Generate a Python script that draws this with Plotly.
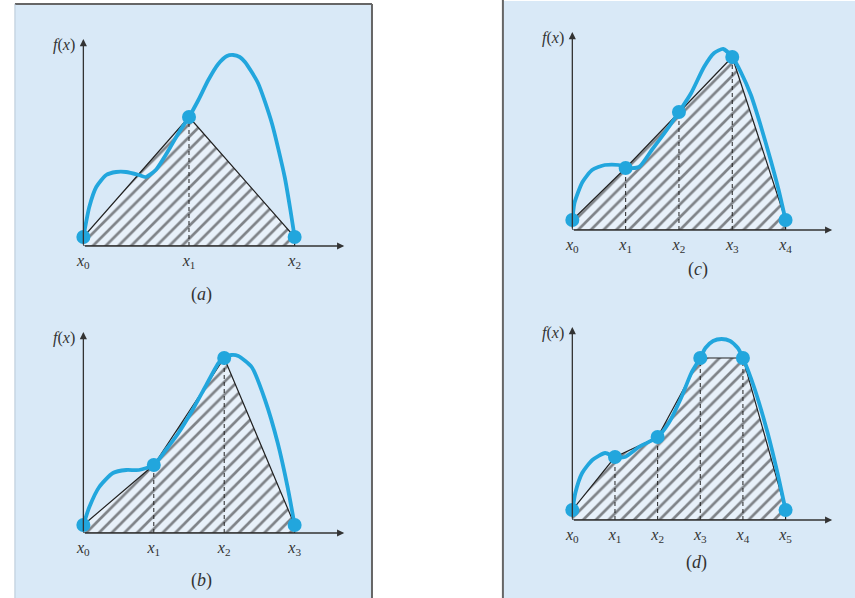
import plotly.graph_objects as go

# ---------------- data ----------------
# f-units: x measured in node spacings (x_k = k), f on a 0..10 scale
curve_a_x = [0, 0.056, 0.122, 0.216, 0.31, 0.404, 0.526, 0.592, 0.685, 0.808, 0.901, 1.0,
             1.089, 1.183, 1.277, 1.36, 1.418, 1.48, 1.53, 1.653, 1.784, 1.906, 1.96, 2.0]
curve_a_y = [0.45, 1.95, 2.95, 3.55, 3.7, 3.7, 3.55, 3.45, 3.8, 4.8, 5.65, 6.45,
             7.3, 8.3, 9.1, 9.5, 9.55, 9.45, 9.2, 8.15, 6.15, 3.45, 1.8, 0.45]
nodes_a = [0.45, 6.45, 0.45]

curve_b_x = [0, 0.085, 0.225, 0.42, 0.61, 0.79, 1.0, 1.17, 1.35, 1.55, 1.73, 1.92, 2.0,
             2.1, 2.2, 2.39, 2.58, 2.76, 2.9, 3.0]
curve_b_y = [0.4, 1.3, 2.3, 3.0, 3.15, 3.15, 3.4, 4.15, 5.0, 6.15, 7.3, 8.5, 8.75,
             8.9, 8.85, 8.3, 6.65, 4.5, 2.3, 0.4]
nodes_b = [0.4, 3.4, 8.75, 0.4]

curve_c_x = [0, 0.04, 0.19, 0.37, 0.61, 0.87, 1.0, 1.25, 1.49, 1.73, 2.0, 2.23, 2.47,
             2.66, 2.83, 3.0, 3.16, 3.35, 3.53, 3.72, 3.87, 4.0]
curve_c_y = [0.4, 1.35, 2.4, 3.0, 3.25, 3.25, 3.1, 3.15, 4.0, 4.85, 5.9, 6.85, 8.15,
             8.85, 9.05, 8.65, 7.9, 6.75, 5.25, 3.5, 2.0, 0.5]
nodes_c = [0.5, 3.1, 5.9, 8.65, 0.5]

curve_d_x = [0, 0.07, 0.23, 0.47, 0.77, 1.0, 1.23, 1.56, 2.0, 2.26, 2.56, 2.79, 3.0,
             3.12, 3.3, 3.5, 3.7, 3.88, 4.0, 4.26, 4.58, 4.81, 5.0]
curve_d_y = [0.4, 1.35, 2.35, 3.0, 3.35, 3.15, 3.15, 3.65, 4.15, 4.85, 6.15, 7.35, 8.1,
             8.6, 8.95, 9.05, 8.95, 8.6, 8.1, 6.65, 4.35, 2.35, 0.5]
nodes_d = [0.5, 3.15, 4.15, 8.1, 8.1, 0.5]

panel_letters = ["a", "b", "c", "d"]
tick_labels = [["<i>x</i><sub>%d</sub>" % k for k in range(n)] for n in (3, 4, 5, 6)]

# ---------------- styling / layout ----------------
W, H = 855, 598
BLUE = "#22a6dd"
DARK = "#333333"
BG = "#d9e9f7"
SERIF = "Liberation Serif, DejaVu Serif, serif"

# pixel boxes of each panel's axes: (left, right, top, bottom), last node px, letter px
boxes = [(77, 340, 39, 246), (77, 340, 332, 533), (570, 832, 32, 230), (570, 832, 327, 520)]
last_node_px = [290, 290, 785, 785]
letter_px = [(196, 294), (196, 580), (697, 270), (695, 562)]

panels = [
    (curve_a_x, curve_a_y, nodes_a),
    (curve_b_x, curve_b_y, nodes_b),
    (curve_c_x, curve_c_y, nodes_c),
    (curve_d_x, curve_d_y, nodes_d),
]

fig = go.Figure()
annotations = []
layout_axes = {}

for i, ((cx, cy, nodes), (L, R, T, B)) in enumerate(zip(panels, boxes)):
    n = len(nodes) - 1
    xs = list(range(n + 1))
    px_per_x = (last_node_px[i] - L) / n
    xr = (R - L) / px_per_x
    yr = (B - T) / 20.0
    suffix = "" if i == 0 else str(i + 1)
    xa, ya = "x" + suffix, "y" + suffix

    # hatched trapezoids
    poly_x = [0] + xs + [n, 0]
    poly_y = [0] + nodes + [0, 0]
    fig.add_trace(go.Scatter(
        x=poly_x, y=poly_y, mode="lines", fill="toself",
        fillcolor="rgba(0,0,0,0)",
        fillpattern=dict(shape="/", fgcolor="#161616", bgcolor="#e8f1fa", size=9, solidity=0.3),
        line=dict(color="#222", width=1.2), xaxis=xa, yaxis=ya, showlegend=False,
        hoverinfo="skip", cliponaxis=False))
    # dashed verticals at interior nodes
    dx, dy = [], []
    for k in range(1, n):
        dx += [k, k, None]
        dy += [0, nodes[k], None]
    if dx:
        fig.add_trace(go.Scatter(x=dx, y=dy, mode="lines",
                                 line=dict(color="#222", width=1, dash="4px,3px"),
                                 xaxis=xa, yaxis=ya, showlegend=False, hoverinfo="skip"))
    # curve
    fig.add_trace(go.Scatter(x=cx, y=cy, mode="lines",
                             line=dict(color=BLUE, width=3.8, shape="spline", smoothing=0.6),
                             xaxis=xa, yaxis=ya, showlegend=False, hoverinfo="skip",
                             cliponaxis=False))
    # nodes
    fig.add_trace(go.Scatter(x=xs, y=nodes, mode="markers",
                             marker=dict(color=BLUE, size=14),
                             xaxis=xa, yaxis=ya, showlegend=False, hoverinfo="skip",
                             cliponaxis=False))

    key = "" if i == 0 else str(i + 1)
    layout_axes["xaxis" + key] = dict(
        domain=[L / W, R / W], range=[0, xr], anchor=ya, showgrid=False, zeroline=False,
        showline=False, ticks="", tickvals=xs, ticktext=tick_labels[i],
        tickfont=dict(family=SERIF, size=16, color=DARK), ticklabelstandoff=3,
        fixedrange=True)
    layout_axes["yaxis" + key] = dict(
        domain=[1 - B / H, 1 - T / H], range=[0, yr], anchor=xa, showgrid=False,
        zeroline=False, showline=False, showticklabels=False, ticks="", fixedrange=True)

    # axes with arrowheads
    annotations.append(dict(x=xr, y=0, ax=0, ay=0, xref=xa, yref=ya, axref=xa, ayref=ya,
                            text="", showarrow=True, arrowhead=2, arrowsize=1.1,
                            arrowwidth=1.3, arrowcolor=DARK, standoff=0))
    annotations.append(dict(x=0, y=yr, ax=0, ay=0, xref=xa, yref=ya, axref=xa, ayref=ya,
                            text="", showarrow=True, arrowhead=2, arrowsize=1.1,
                            arrowwidth=1.3, arrowcolor=DARK, standoff=0))
    # f(x) label
    annotations.append(dict(x=0, y=yr, xref=xa, yref=ya, text="<i>f</i>(<i>x</i>)",
                            showarrow=False, xanchor="right", yanchor="middle",
                            xshift=-6, yshift=-6,
                            font=dict(family=SERIF, size=16, color=DARK)))
    # panel letter
    lx, ly = letter_px[i]
    annotations.append(dict(x=lx / W, y=1 - ly / H, xref="paper", yref="paper",
                            text="(<i>%s</i>)" % panel_letters[i], showarrow=False,
                            xanchor="center", yanchor="middle",
                            font=dict(family=SERIF, size=18, color=DARK)))

shapes = [
    dict(type="rect", xref="paper", yref="paper", x0=8 / W, x1=368 / W, y0=0, y1=1 - 4 / H,
         fillcolor=BG, line=dict(width=0), layer="below"),
    dict(type="rect", xref="paper", yref="paper", x0=500 / W, x1=1, y0=0, y1=1 - 1 / H,
         fillcolor=BG, line=dict(width=0), layer="below"),
    dict(type="line", xref="paper", yref="paper", x0=8 / W, x1=368 / W, y0=1 - 4 / H, y1=1 - 4 / H,
         line=dict(color="#666", width=2), layer="below"),
    dict(type="line", xref="paper", yref="paper", x0=368 / W, x1=368 / W, y0=0, y1=1 - 4 / H,
         line=dict(color="#666", width=2), layer="below"),
    dict(type="line", xref="paper", yref="paper", x0=8 / W, x1=8 / W, y0=0, y1=1 - 4 / H,
         line=dict(color="#b8c8d8", width=1), layer="below"),
    dict(type="line", xref="paper", yref="paper", x0=500 / W, x1=500 / W, y0=0, y1=1,
         line=dict(color="#666", width=2), layer="below"),
]

fig.update_layout(width=W, height=H, margin=dict(l=0, r=0, t=0, b=0), autosize=False,
                  paper_bgcolor="white", plot_bgcolor="rgba(0,0,0,0)",
                  annotations=annotations, shapes=shapes, showlegend=False, **layout_axes)

fig.write_html("out.html", config={"displayModeBar": False})
